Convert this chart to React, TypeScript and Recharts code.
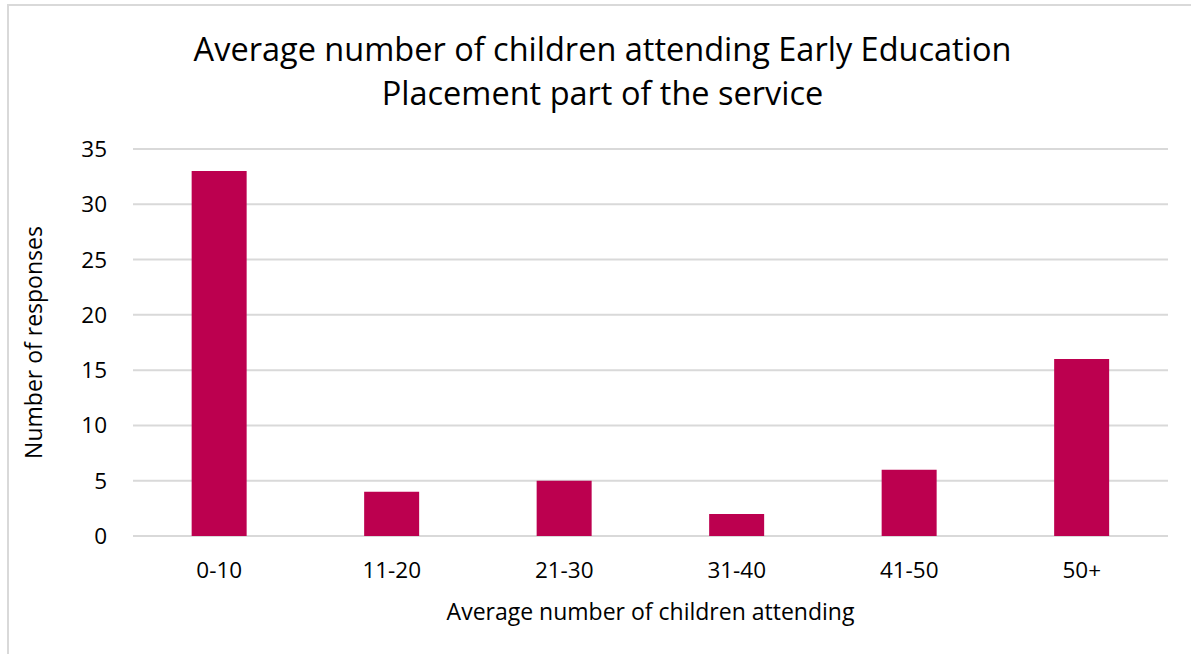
import { BarChart, Bar, XAxis, YAxis, CartesianGrid, Label } from "recharts";

const CATEGORIES = ["0-10", "11-20", "21-30", "31-40", "41-50", "50+"];
const RESPONSES = [33, 4, 5, 2, 6, 16];
const Y_TICKS = [0, 5, 10, 15, 20, 25, 30, 35];

const DATA = CATEGORIES.map((band, i) => ({ band, responses: RESPONSES[i] }));

const FONT = "'Open Sans', sans-serif";

export default function App() {
  return (
    <div
      style={{
        position: "absolute",
        left: 0,
        top: 0,
        width: 1191,
        height: 654,
        overflow: "hidden",
        background: "#fff",
        fontFamily: FONT,
      }}
    >
      <div
        style={{
          position: "absolute",
          left: 7,
          top: 4,
          width: 1200,
          height: 700,
          border: "2px solid #D9D9D9",
        }}
      />
      <div
        style={{
          position: "absolute",
          left: 0,
          width: 1205,
          top: 27,
          textAlign: "center",
          fontSize: 32.5,
          lineHeight: "44px",
          color: "#000",
        }}
      >
        Average number of children attending Early Education
        <br />
        Placement part of the service
      </div>
      <div style={{ position: "absolute", left: 0, top: 0 }}>
        <BarChart
          width={1191}
          height={654}
          data={DATA}
          margin={{ top: 149, right: 23, bottom: 0, left: 0 }}
          barCategoryGap="34%"
        >
          <CartesianGrid vertical={false} stroke="#D9D9D9" strokeWidth={2} />
          <XAxis
            dataKey="band"
            height={118}
            axisLine={false}
            tickLine={false}
            tickSize={0}
            tickMargin={26}
            tick={{ fill: "#000", fontSize: 22.5, fontFamily: FONT }}
          >
            <Label
              value="Average number of children attending"
              position="center"
              dy={17}
              style={{ fill: "#000", fontSize: 23, fontFamily: FONT }}
            />
          </XAxis>
          <YAxis
            width={133}
            domain={[0, 35]}
            ticks={Y_TICKS}
            axisLine={false}
            tickLine={false}
            tickSize={0}
            tickMargin={26}
            tick={{ fill: "#000", fontSize: 22.5, fontFamily: FONT }}
          >
            <Label
              value="Number of responses"
              position="center"
              angle={-90}
              dx={-33}
              style={{ fill: "#000", fontSize: 23, fontFamily: FONT, textAnchor: "middle" }}
            />
          </YAxis>
          <Bar dataKey="responses" fill="#BC004F" isAnimationActive={false} />
        </BarChart>
      </div>
    </div>
  );
}
